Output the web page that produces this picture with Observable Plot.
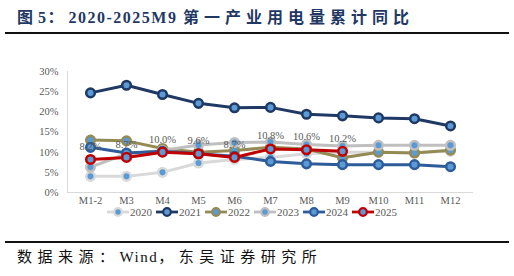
<!DOCTYPE html>
<html>
<head>
<meta charset="utf-8">
<script src="https://cdn.jsdelivr.net/npm/d3@7"></script>
<script src="https://cdn.jsdelivr.net/npm/@observablehq/plot@0.6"></script>
<style>
  body { margin: 0; background: #fff; }
  #wrap { position: relative; width: 514px; height: 276px; overflow: hidden; font-family: "Liberation Serif", "Noto Sans CJK SC", serif; }
  #title { position: absolute; left: 17px; top: 4px; font-size: 16px; font-weight: bold; color: #1F3864; white-space: nowrap; }
  #title .cjk { letter-spacing: 5px; }
  #title .lat { letter-spacing: 1.5px; }
  .hr { position: absolute; left: 5px; width: 504px; height: 2px; background: #111; }
  #chart { position: absolute; left: 0; top: 60px; }
  #legend { position: absolute; top: 206px; left: 106px; display: flex; font-size: 11px; line-height: 12px; color: #595959; }
  #legend .item { display: flex; align-items: center; margin-right: 3px; }
  #legend svg { display: block; }
  #caption { position: absolute; left: 17px; top: 245px; font-size: 15px; color: #111; letter-spacing: 5.5px; white-space: nowrap; }
  #caption .lat { letter-spacing: 1.5px; }
</style>
</head>
<body>
<div id="wrap">
  <div id="title"><span class="cjk">图</span><span class="lat">5</span><span class="cjk">：</span><span class="lat">2020-2025M9 </span><span class="cjk">第一产业用电量累计同比</span></div>
  <div class="hr" style="top:32px"></div>
  <div id="chart"></div>
  <div id="legend"></div>
  <div class="hr" style="top:241px"></div>
  <div id="caption">数据来源：<span class="lat">Wind</span>，东吴证券研究所</div>
</div>
<script>
const months = ["M1-2","M3","M4","M5","M6","M7","M8","M9","M10","M11","M12"];
const years = ["2020","2021","2022","2023","2024","2025"];
const colors = ["#D9D9D9","#1F3864","#948A54","#BFBFBF","#2E5C9A","#C00000"];
const v2020 = [4.0, 4.0, 5.0, 7.3, 8.2, 8.7, 9.6, 10.0, 10.0, 9.9, 10.2];
const v2021 = [24.7, 26.6, 24.3, 22.1, 21.0, 21.1, 19.4, 19.0, 18.5, 18.3, 16.5];
const v2022 = [13.0, 12.8, 10.9, 10.0, 10.4, 11.2, 10.8, 8.6, 10.0, 9.8, 10.5];
const v2023 = [6.3, 9.6, 10.4, 11.8, 12.4, 12.5, 11.9, 11.5, 11.7, 11.7, 11.7];
const v2024 = [11.2, 9.8, 10.2, 9.6, 9.0, 7.7, 7.1, 6.9, 6.9, 6.9, 6.4];
const v2025 = [8.2, 8.7, 10.0, 9.6, 8.7, 10.8, 10.6, 10.2];
const yTicks = [0, 5, 10, 15, 20, 25, 30];

const series = [v2020, v2021, v2022, v2023, v2024, v2025];
const data = [];
series.forEach((vals, i) => vals.forEach((v, j) => data.push({year: years[i], month: months[j], value: v})));
const d2025 = data.filter(d => d.year === "2025");

const marks = [
  Plot.ruleY([0], {stroke: "#D9D9D9", strokeWidth: 1}),
  Plot.frame({anchor: "left", stroke: "#D9D9D9"}),
  Plot.axisY({ticks: yTicks, tickSize: 0, tickPadding: 9, tickFormat: d => d + "%", fontSize: 10.5, fill: "#595959", label: null}),
  Plot.axisX({tickSize: 0, tickPadding: 4, fontSize: 10.5, fill: "#595959", label: null})
];
years.forEach((y, i) => {
  const dd = data.filter(d => d.year === y);
  marks.push(Plot.line(dd, {x: "month", y: "value", stroke: colors[i], strokeWidth: 3}));
  marks.push(Plot.dot(dd, {x: "month", y: "value", r: 4.3, stroke: colors[i], strokeWidth: 2.5, fill: "#5B9BD5"}));
});
marks.push(Plot.text(d2025, {x: "month", y: "value", text: d => d.value.toFixed(1) + "%", dy: -13, fill: "#595959", fontSize: 10.5}));

const plot = Plot.plot({
  width: 514,
  height: 155,
  marginTop: 11,
  marginBottom: 23,
  marginLeft: 67,
  marginRight: 41,
  style: {fontFamily: "'Liberation Serif', serif", background: "transparent"},
  x: {type: "point", domain: months, padding: 0.5},
  y: {domain: [0, 30]},
  marks
});
document.getElementById("chart").appendChild(plot);

const legend = document.getElementById("legend");
years.forEach((y, i) => {
  const item = document.createElement("div");
  item.className = "item";
  const svg = d3.create("svg").attr("width", 24).attr("height", 12);
  svg.append("line").attr("x1", 1).attr("x2", 23).attr("y1", 6).attr("y2", 6).attr("stroke", colors[i]).attr("stroke-width", 2.8);
  svg.append("circle").attr("cx", 12).attr("cy", 6).attr("r", 3.8).attr("stroke", colors[i]).attr("stroke-width", 2.2).attr("fill", "#5B9BD5");
  item.appendChild(svg.node());
  const t = document.createElement("span");
  t.textContent = y;
  item.appendChild(t);
  legend.appendChild(item);
});
</script>
</body>
</html>
